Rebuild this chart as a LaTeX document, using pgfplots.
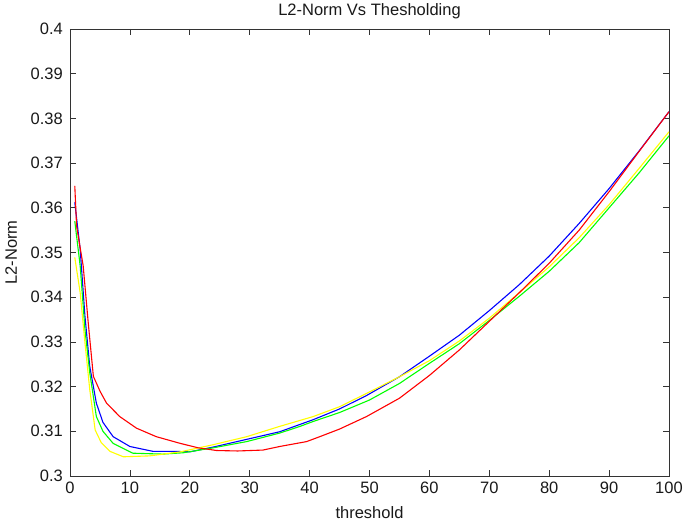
\documentclass[border=0pt]{standalone}
\usepackage{pgfplots}
\pgfplotsset{compat=1.18}
\usepackage{fontspec}
\setmainfont{Liberation Sans}

\definecolor{mred}{rgb}{1,0,0}
\definecolor{mblue}{rgb}{0,0,1}
\definecolor{mgreen}{rgb}{0,1,0}
\definecolor{myellow}{rgb}{1,1,0}

\begin{document}
\begin{tikzpicture}
\begin{axis}[name=ax,
  scale only axis, width=599pt, height=447pt,
  xmin=0, xmax=100, ymin=0.3, ymax=0.4,
  xtick={0,10,20,30,40,50,60,70,80,90,100},
  ytick={0.3,0.31,0.32,0.33,0.34,0.35,0.36,0.37,0.38,0.39,0.4},
  scaled y ticks=false,
  /pgf/number format/assume math mode=true,
  yticklabel style={/pgf/number format/fixed, /pgf/number format/precision=2,
    anchor=east, inner sep=0pt, xshift=-7pt},
  xticklabel style={anchor=base, inner sep=0pt, yshift=-17pt},
  tick align=inside, major tick length=6pt,
  tick style={black!80, line width=0.8pt},
  axis line style={black!80, line width=0.9pt},
  ticklabel style={font=\fontsize{16.5}{19}\selectfont, text=black!90},
  label style={font=\fontsize{16.5}{19}\selectfont, text=black!90},
  every axis title shift=0pt,
  title style={font=\fontsize{16.5}{19}\selectfont, text=black!90,
    at={(axis description cs:0.5,1.031)}, anchor=base, inner sep=0pt},
  xlabel style={at={(axis description cs:0.5,-0.094)}, anchor=base},
  ylabel style={at={(axis description cs:-0.0885,0.5)}, anchor=base},
  title={L2-Norm Vs Thesholding},
  xlabel={threshold},
  ylabel={L2-Norm},
  every axis plot/.append style={line width=1.1pt, line join=round},
]
% blue
\addplot[mblue] coordinates {
(0.8,0.3612) (1.7,0.3507) (2.5,0.3357) (3.3,0.3245) (4.4,0.3163) (5.5,0.3120)
(7.2,0.3088) (10,0.3066) (13.9,0.3055) (17.8,0.3055) (20,0.3054) (24,0.3065)
(29.5,0.3082) (35,0.3099) (40.6,0.3126) (45,0.3150) (49.5,0.3180) (55,0.3222)
(60,0.3268) (65,0.3315) (70,0.3370) (75,0.3428) (80,0.3492) (85,0.3565)
(90,0.3643) (95,0.3727) (100,0.3815)
};
% green
\addplot[mgreen] coordinates {
(0.8,0.3570) (1.7,0.3470) (2.5,0.3327) (3.3,0.3231) (4.4,0.3133) (5.5,0.3100)
(7.2,0.3073) (10.5,0.3051) (15.5,0.3049) (18.9,0.3052) (23.9,0.3063) (29.5,0.3077)
(35,0.3096) (38.4,0.3111) (40.6,0.3122) (45,0.3142) (50,0.3170) (55,0.3207)
(60,0.3252) (65,0.3296) (70,0.3348) (75,0.3402) (80,0.3458) (85,0.3522)
(90,0.3600) (95,0.3678) (100,0.3761)
};
% yellow
\addplot[myellow] coordinates {
(0.8,0.3489) (1.7,0.3410) (2.5,0.3298) (3.3,0.3193) (4.2,0.3103) (5.2,0.3075)
(6.7,0.3055) (8.9,0.3043) (13.3,0.3045) (18.4,0.3054) (23.9,0.3070) (29.5,0.3088)
(35,0.3111) (40.6,0.3133) (45,0.3155) (50,0.3188) (55,0.3222) (60,0.3258)
(65,0.3302) (70,0.3353) (75,0.3410) (80,0.3468) (85,0.3533) (90,0.3607)
(95,0.3688) (100,0.3770)
};
% red
\addplot[mred] coordinates {
(0.8,0.3649) (1.1,0.3559) (2.2,0.3470) (3.05,0.3342) (3.9,0.3223) (5.0,0.3190)
(6.1,0.3163) (8.3,0.3133) (11.1,0.3107) (14.4,0.3088) (18.4,0.3073) (21.4,0.3063)
(24.5,0.3057) (28,0.3056) (32.2,0.3058) (35,0.3066) (39.5,0.3077) (41.7,0.3088)
(45,0.3105) (49.5,0.3133) (55,0.3174) (60,0.3225) (65,0.3282) (70,0.3346)
(75,0.3410) (80,0.3476) (85,0.3550) (90,0.3636) (95,0.3726) (100,0.3815)
};
\end{axis}
\pgfresetboundingbox
\path[use as bounding box] ([xshift=-70pt,yshift=-44pt]ax.south west)
  rectangle ([xshift=16pt,yshift=29pt]ax.north east);
\end{tikzpicture}
\end{document}
